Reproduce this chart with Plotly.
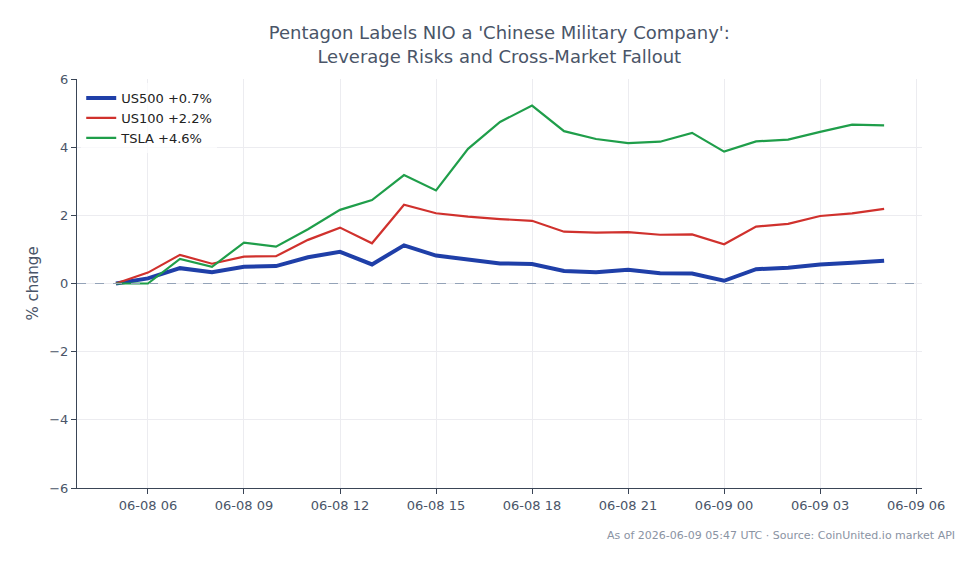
import plotly.graph_objects as go
import pandas as pd

times = pd.date_range("2026-06-08 05:00", "2026-06-09 05:00", freq="h")

us500 = [0.0, 0.15, 0.45, 0.33, 0.49, 0.51, 0.77, 0.93, 0.56, 1.12, 0.82, 0.71, 0.59,
         0.57, 0.37, 0.33, 0.40, 0.30, 0.29, 0.08, 0.42, 0.46, 0.56, 0.61, 0.67]
us100 = [0.0, 0.32, 0.84, 0.58, 0.79, 0.80, 1.28, 1.64, 1.18, 2.31, 2.06, 1.96, 1.89,
         1.84, 1.52, 1.49, 1.51, 1.43, 1.44, 1.15, 1.67, 1.75, 1.98, 2.06, 2.19]
tsla = [0.0, 0.0, 0.72, 0.49, 1.20, 1.08, 1.59, 2.16, 2.45, 3.18, 2.73, 3.95, 4.74,
        5.22, 4.47, 4.24, 4.12, 4.16, 4.42, 3.87, 4.17, 4.22, 4.45, 4.66, 4.64]

names = ["US500 +0.7%", "US100 +2.2%", "TSLA +4.6%"]
colors = ["#1f3fa8", "#d0312d", "#1f9e4a"]
widths = [4, 2.2, 2.2]

font = "DejaVu Sans"
txt = "#4a5568"

fig = go.Figure()
for name, ys, c, w in zip(names, [us500, us100, tsla], colors, widths):
    fig.add_trace(go.Scatter(x=times, y=ys, mode="lines", name=name,
                             line=dict(color=c, width=w)))

fig.add_hline(y=0, line=dict(color="#94a3b8", width=1.2, dash="dash"))

fig.update_layout(
    width=979, height=564,
    margin=dict(l=77, r=57, t=79, b=76),
    paper_bgcolor="white", plot_bgcolor="white",
    font=dict(family=font, size=13, color=txt),
    title=dict(text="Pentagon Labels NIO a 'Chinese Military Company':<br>Leverage Risks and Cross-Market Fallout",
               x=0.51, xanchor="center", y=0.93, yanchor="top",
               font=dict(size=18, color=txt, family=font)),
    legend=dict(x=0.005, y=0.99, xanchor="left", yanchor="top",
                bgcolor="rgba(255,255,255,0.7)", font=dict(size=13, color="#222")),
    showlegend=True,
)
fig.update_xaxes(
    range=["2026-06-08 03:47", "2026-06-09 06:11"],
    tickformat="%m-%d %H", dtick=3 * 3600 * 1000,
    tick0="2026-06-08 00:00",
    showgrid=True, gridcolor="#ececf0", gridwidth=1,
    showline=True, linecolor="#3a4556", linewidth=1,
    ticks="outside", ticklen=5, tickcolor="#3a4556",
    zeroline=False,
)
fig.update_yaxes(
    range=[-6, 6], dtick=2,
    title=dict(text="% change", font=dict(size=15, color=txt), standoff=6),
    showgrid=True, gridcolor="#ececf0", gridwidth=1,
    showline=True, linecolor="#3a4556", linewidth=1,
    ticks="outside", ticklen=5, tickcolor="#3a4556",
    zeroline=False,
)
fig.add_annotation(text="As of 2026-06-09 05:47 UTC · Source: CoinUnited.io market API",
                   xref="paper", yref="paper", x=1.042, y=-0.095,
                   xanchor="right", yanchor="top", showarrow=False,
                   font=dict(size=11, color="#8a93a3"))

fig.write_html("out.html")
